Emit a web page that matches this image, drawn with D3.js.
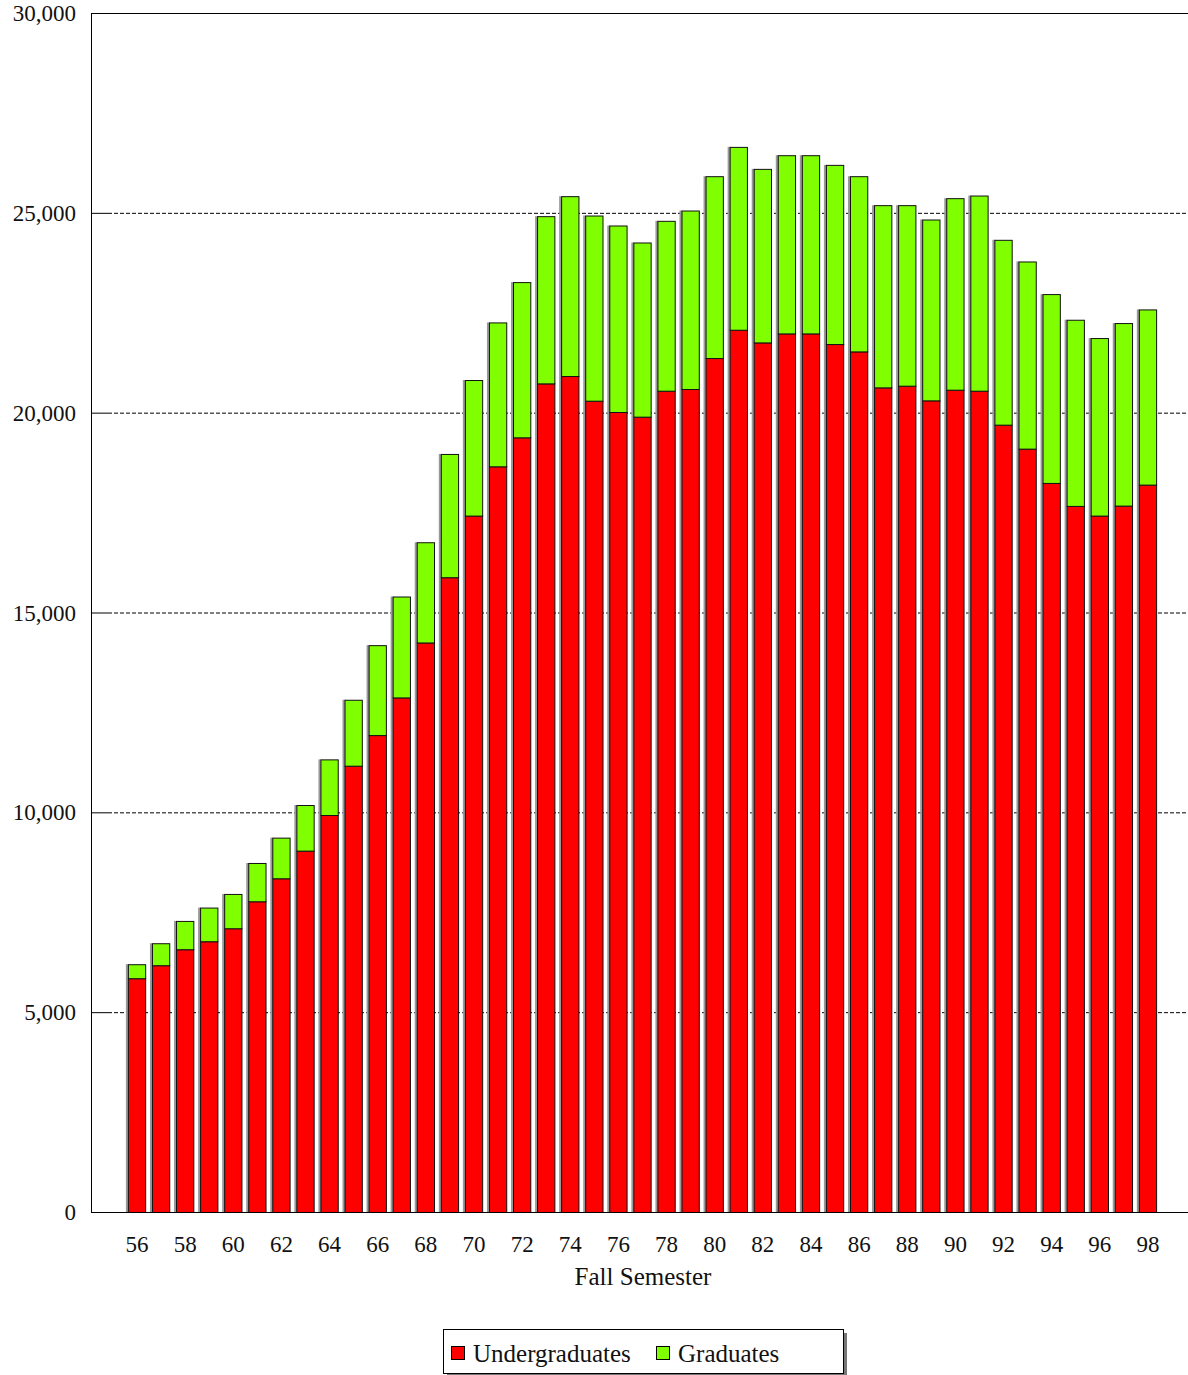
<!DOCTYPE html>
<html>
<head>
<meta charset="utf-8">
<script src="https://cdn.jsdelivr.net/npm/d3@7"></script>
<style>
  body { margin: 0; background: #fff; }
  svg text { font-family: "Liberation Serif", "DejaVu Serif", serif; fill: #111; }
</style>
</head>
<body>
<div id="chart"></div>
<script>
// fall semester years 1956-1998
const years = d3.range(56, 99);
const undergrads = [5850, 6175, 6575, 6775, 7100, 7775, 8350, 9042, 9933, 11167,
  11933, 12875, 14250, 15883, 17425, 18658, 19383, 20733, 20917, 20300,
  20017, 19900, 20550, 20592, 21367, 22075, 21758, 21983, 21983, 21717,
  21533, 20633, 20675, 20308, 20575, 20550, 19700, 19100, 18242, 17667,
  17425, 17675, 18200];
const totals = [6200, 6725, 7283, 7617, 7958, 8733, 9367, 10183, 11325, 12817,
  14183, 15400, 16758, 18967, 20817, 22258, 23267, 24917, 25417, 24933,
  24683, 24258, 24800, 25058, 25917, 26650, 26100, 26442, 26442, 26200,
  25917, 25192, 25192, 24833, 25367, 25433, 24325, 23783, 22967, 22325,
  21867, 22242, 22583];
const graduates = totals.map((t, i) => t - undergrads[i]);
const yTicks = [0, 5000, 10000, 15000, 20000, 25000, 30000];
const seriesNames = ["Undergraduates", "Graduates"];
const seriesColors = ["#ff0000", "#7fff00"];

const width = 1188, height = 1375;
const svg = d3.select("#chart").append("svg")
  .attr("width", width).attr("height", height);

const x = d3.scaleBand()
  .domain(years)
  .range([125, 1160])
  .paddingInner(0.24)
  .paddingOuter(0.12);

const y = d3.scaleLinear().domain([0, 30000]).range([1212, 13]);

// gridlines (dashed) and inward ticks
svg.append("g").selectAll("line.grid")
  .data(yTicks.filter(d => d > 0 && d < 30000))
  .join("line")
  .attr("x1", 108).attr("x2", width)
  .attr("y1", d => y(d) + 0.5).attr("y2", d => y(d) + 0.5)
  .attr("stroke", "#000").attr("stroke-width", 1)
  .attr("stroke-dasharray", "4,2");

svg.append("g").selectAll("line.tick")
  .data(yTicks)
  .join("line")
  .attr("x1", 91).attr("x2", 108)
  .attr("y1", d => y(d) + 0.5).attr("y2", d => y(d) + 0.5)
  .attr("stroke", "#000");

svg.append("g").selectAll("text")
  .data(yTicks)
  .join("text")
  .attr("x", 76)
  .attr("y", d => y(d))
  .attr("dy", "0.35em")
  .attr("text-anchor", "end")
  .attr("font-size", 23)
  .text(d => d3.format(",")(d));

// stacked bars
const stackData = years.map((yr, i) => ({ year: yr, u: undergrads[i], g: graduates[i] }));
const stack = d3.stack().keys(["u", "g"])(stackData);

// shadow strip on the left of each bar
svg.append("g").selectAll("rect")
  .data(stackData)
  .join("rect")
  .attr("x", d => x(d.year) - 2)
  .attr("y", d => y(d.u + d.g))
  .attr("width", 3)
  .attr("height", d => y(0) - y(d.u + d.g))
  .attr("fill", "#999");

stack.forEach((layer, li) => {
  svg.append("g").selectAll("rect")
    .data(layer)
    .join("rect")
    .attr("x", d => x(d.data.year) + 0.5)
    .attr("y", d => y(d[1]) + 0.5)
    .attr("width", x.bandwidth() - 1)
    .attr("height", d => y(d[0]) - y(d[1]))
    .attr("fill", seriesColors[li])
    .attr("stroke", "#111")
    .attr("stroke-width", 1);
});

// axes frame
svg.append("line").attr("x1", 91.5).attr("x2", 91.5).attr("y1", 13).attr("y2", 1212)
  .attr("stroke", "#000");
svg.append("line").attr("x1", 91).attr("x2", width).attr("y1", 13.5).attr("y2", 13.5)
  .attr("stroke", "#000");
svg.append("line").attr("x1", 91).attr("x2", width).attr("y1", 1212.5).attr("y2", 1212.5)
  .attr("stroke", "#000");

// x labels every other year
svg.append("g").selectAll("text")
  .data(years.filter(d => d % 2 === 0))
  .join("text")
  .attr("x", d => x(d) + x.bandwidth() / 2)
  .attr("y", 1252)
  .attr("text-anchor", "middle")
  .attr("font-size", 23)
  .text(d => d);

svg.append("text")
  .attr("x", 643).attr("y", 1285)
  .attr("text-anchor", "middle")
  .attr("font-size", 25)
  .text("Fall Semester");

// legend
const legend = svg.append("g");
legend.append("rect")
  .attr("x", 447).attr("y", 1333).attr("width", 400).attr("height", 44)
  .attr("fill", "#777");
legend.append("rect")
  .attr("x", 443.5).attr("y", 1329.5).attr("width", 400).attr("height", 44)
  .attr("fill", "#fff").attr("stroke", "#000");

const legendX = [451, 656];
seriesNames.forEach((name, i) => {
  legend.append("rect")
    .attr("x", legendX[i] + 0.5).attr("y", 1346.5)
    .attr("width", 13).attr("height", 13)
    .attr("fill", seriesColors[i]).attr("stroke", "#000");
  legend.append("text")
    .attr("x", legendX[i] + 22).attr("y", 1362)
    .attr("font-size", 25)
    .text(name);
});
</script>
</body>
</html>
